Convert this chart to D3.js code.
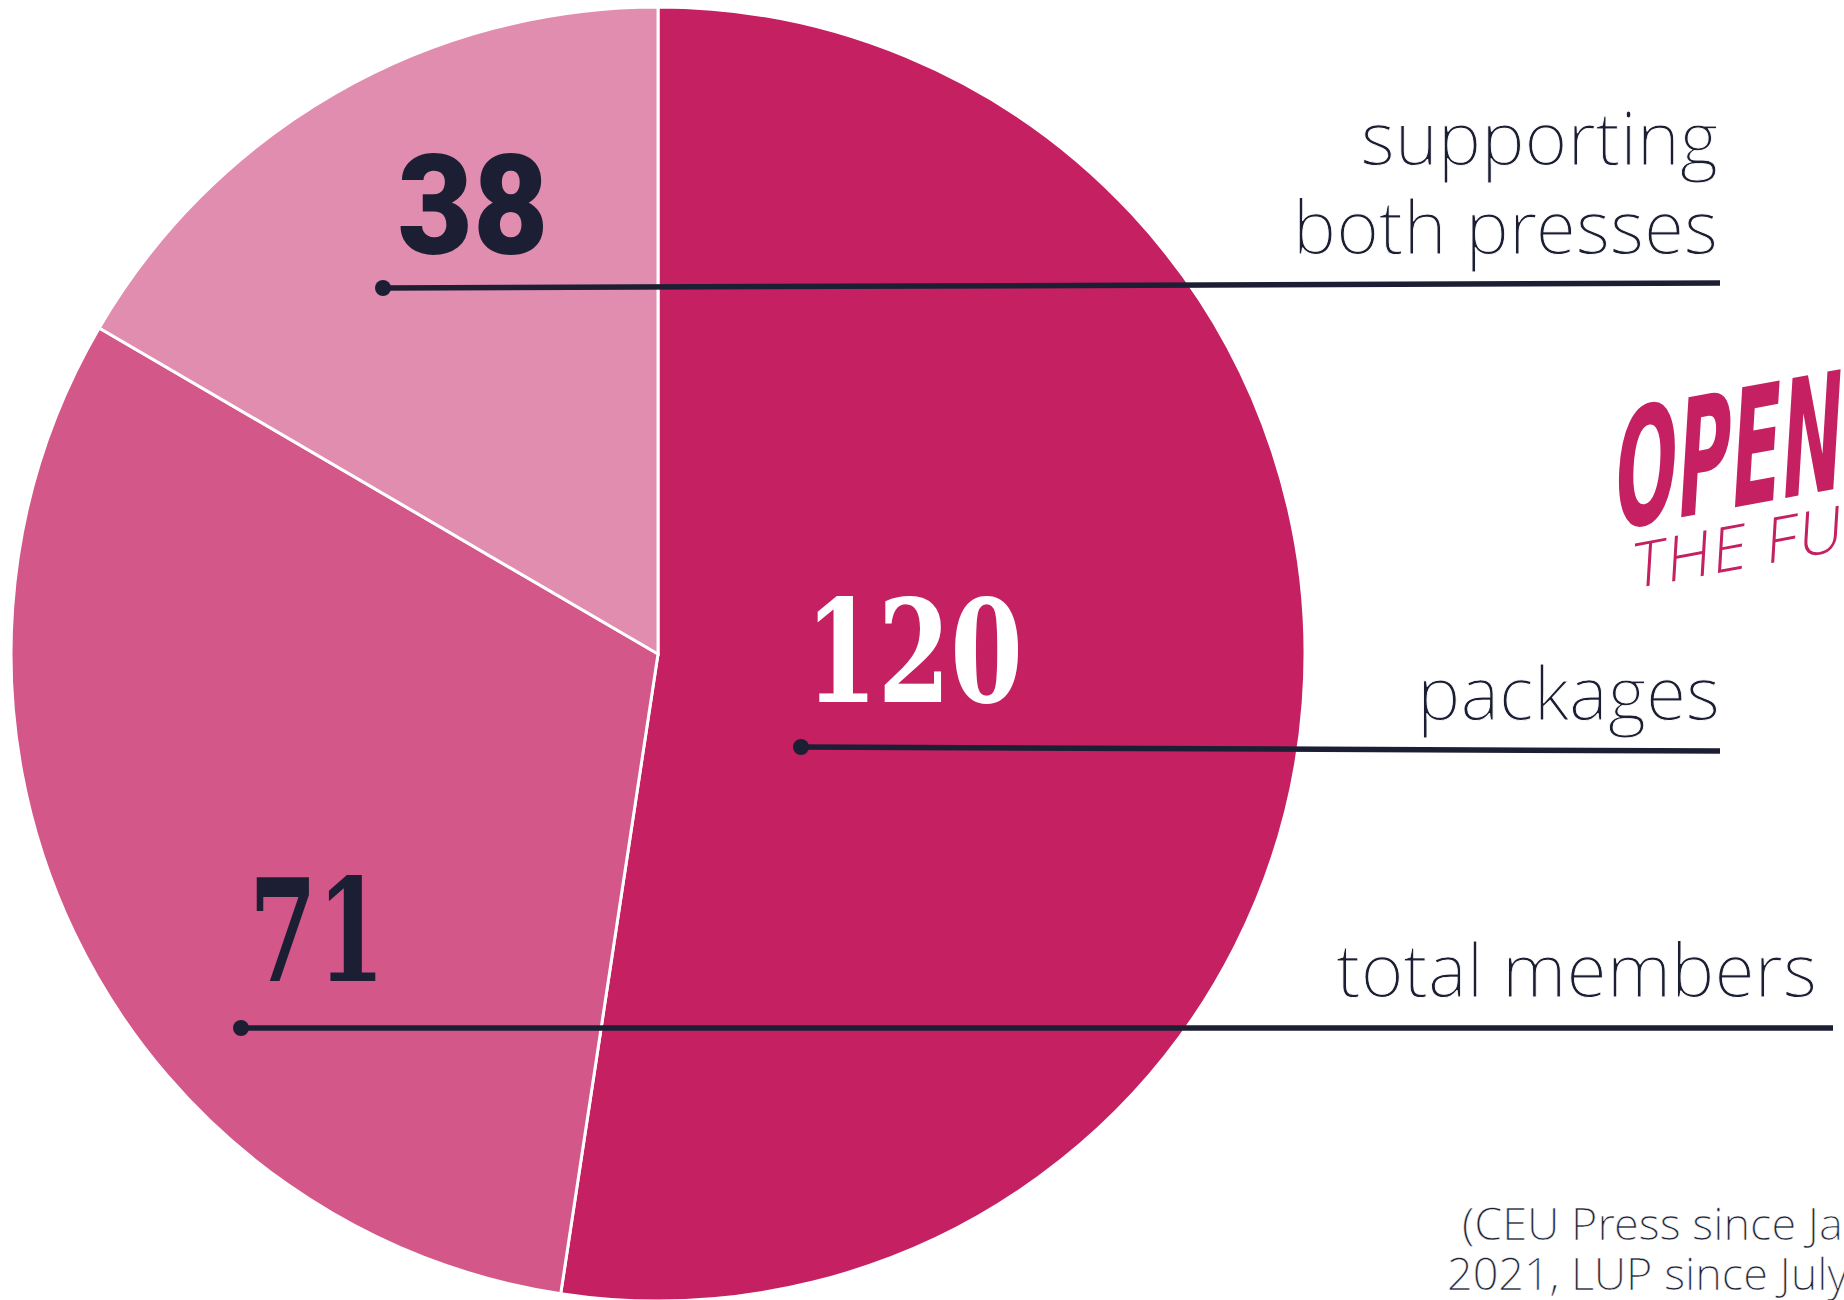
<!DOCTYPE html>
<html>
<head>
<meta charset="utf-8">
<script src="https://cdn.jsdelivr.net/npm/d3@7"></script>
<style>
body { margin: 0; background: #fff; overflow: hidden; }
svg { display: block; }
</style>
</head>
<body>
<div id="chart"></div>
<script>
var categories = ["packages", "total members", "supporting both presses"];
var values = [120, 71, 38];
var labelLines = [["packages"], ["total members"], ["supporting", "both presses"]];
var colors = ["#c42062", "#d45789", "#e18daf"];
var numColors = ["#ffffff", "#1c1f33", "#1c1f33"];
var numFonts = ["'DejaVu Serif'", "'DejaVu Serif'", "Roboto"];
var noteLines = ["(CEU Press since January", "2021, LUP since July 2021)"];

var width = 1844, height = 1300;
var cx = 658, cy = 654, radius = 647;

// layout of numbers and leader lines (pixels)
var numPos = [[914, 702], [317, 981], [473, 254]];
var numLen = [218, 136, 151];
var dotPos = [[801, 747], [241, 1028], [383, 288]];
var lineEnd = [[1720, 751], [1833, 1028], [1720, 283]];
var textEnd = [[1720, 720], [1817, 997], [1718, 254]];
var ink = "#1c1f33";
var lightFont = "'Open Sans Light', 'Open Sans'";

var svg = d3.select("#chart").append("svg")
    .attr("width", width)
    .attr("height", height);

var pie = d3.pie().sort(null).value(function(d) { return d; });
var arc = d3.arc().innerRadius(0).outerRadius(radius);

var g = svg.append("g").attr("transform", "translate(" + cx + "," + cy + ")");
g.selectAll("path")
    .data(pie(values))
    .enter()
    .append("path")
    .attr("d", arc)
    .attr("fill", function(d, i) { return colors[i]; })
    .attr("stroke", "#fff")
    .attr("stroke-width", 3);

// big numbers
svg.selectAll(".num")
    .data(values)
    .enter()
    .append("text")
    .attr("class", "num")
    .attr("x", function(d, i) { return numPos[i][0]; })
    .attr("y", function(d, i) { return numPos[i][1]; })
    .attr("text-anchor", "middle")
    .attr("textLength", function(d, i) { return numLen[i]; })
    .attr("lengthAdjust", "spacingAndGlyphs")
    .style("font-family", function(d, i) { return numFonts[i]; })
    .style("font-weight", function(d, i) { return i == 2 ? 900 : "bold"; })
    .style("font-size", function(d, i) { return i == 2 ? "140px" : "142px"; })
    .attr("fill", function(d, i) { return numColors[i]; })
    .text(function(d) { return d; });

// leaders
svg.selectAll(".leader")
    .data(values)
    .enter()
    .append("line")
    .attr("class", "leader")
    .attr("x1", function(d, i) { return dotPos[i][0]; })
    .attr("y1", function(d, i) { return dotPos[i][1]; })
    .attr("x2", function(d, i) { return lineEnd[i][0]; })
    .attr("y2", function(d, i) { return lineEnd[i][1]; })
    .attr("stroke", ink)
    .attr("stroke-width", 5.5);

svg.selectAll(".dot")
    .data(values)
    .enter()
    .append("circle")
    .attr("class", "dot")
    .attr("cx", function(d, i) { return dotPos[i][0]; })
    .attr("cy", function(d, i) { return dotPos[i][1]; })
    .attr("r", 8)
    .attr("fill", ink);

// category labels (thin white stroke lightens the regular weight a little)
labelLines.forEach(function(lines, i) {
  var t = svg.append("text")
      .attr("text-anchor", "end")
      .style("font-family", lightFont)
      .style("font-weight", 300)
      .style("font-size", "73px")
      .attr("fill", ink)
      .attr("stroke", "#fff")
      .attr("stroke-width", 0.9);
  lines.forEach(function(s, k) {
    t.append("tspan")
      .attr("x", textEnd[i][0])
      .attr("y", textEnd[i][1] - (lines.length - 1 - k) * 89)
      .text(s);
  });
});

// footnote (runs off the page)
var note = svg.append("text")
    .style("font-family", lightFont)
    .style("font-weight", 300)
    .style("font-size", "45px")
    .attr("fill", ink)
    .attr("stroke", "#fff")
    .attr("stroke-width", 0.5);
note.append("tspan").attr("x", 1462).attr("y", 1240).text(noteLines[0]);
note.append("tspan").attr("x", 1447).attr("y", 1290).text(noteLines[1]);

// logo fragment
svg.append("text")
    .attr("transform", "translate(1612,530) rotate(-10.5) skewX(-14)")
    .attr("textLength", 232)
    .attr("lengthAdjust", "spacingAndGlyphs")
    .style("font-family", "'DejaVu Sans Condensed', 'DejaVu Sans'")
    .style("font-weight", "bold")
    .style("font-size", "160px")
    .attr("fill", "#c42062")
    .text("OPEN");

svg.append("text")
    .attr("transform", "translate(1632,589) rotate(-10.5) skewX(-14)")
    .style("font-family", lightFont)
    .style("font-weight", 300)
    .style("font-size", "62px")
    .style("letter-spacing", "2px")
    .attr("fill", "#c42062")
    .text("THE FUTURE");
</script>
</body>
</html>
